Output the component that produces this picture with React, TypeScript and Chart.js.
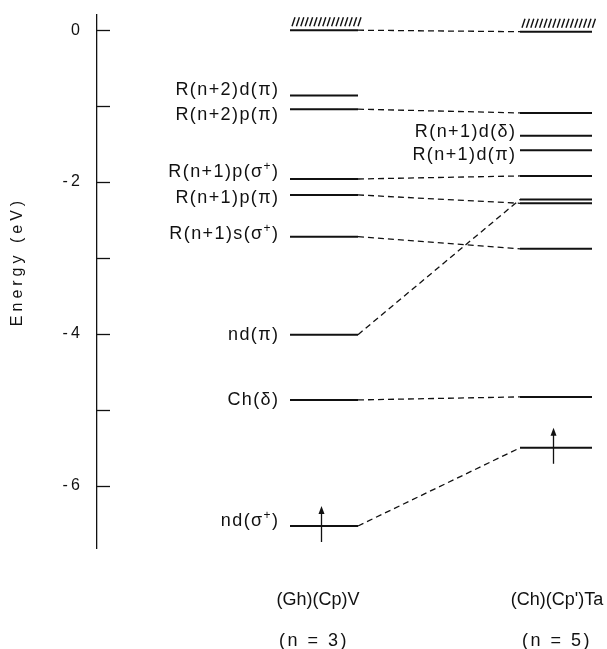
import React, { useEffect, useRef } from 'react';
import { Chart, registerables } from 'chart.js';

Chart.register(...registerables);

// ---- data ----
const yMin = -6.82;
const yMax = 0.2;
const evenTickValues = [0, -2, -4, -6];

const compounds = ['(Gh)(Cp)V', "(Ch)(Cp')Ta"];
const nValues = ['(n = 3)', '(n = 5)'];

// (Gh)(Cp)V levels (eV)
const levelsV = [0, -0.86, -1.04, -1.96, -2.17, -2.72, -4.01, -4.87, -6.53];
const labelsV = ['', 'R(n+2)d(π)', 'R(n+2)p(π)', 'R(n+1)p(σ+)', 'R(n+1)p(π)', 'R(n+1)s(σ+)', 'nd(π)', 'Ch(δ)', 'nd(σ+)'];
const labelAtV = [0, -0.79, -1.12, -1.87, -2.21, -2.68, -4.01, -4.87, -6.47];

// (Ch)(Cp')Ta levels (eV)
const levelsTa = [-0.02, -1.09, -1.39, -1.58, -1.92, -2.23, -2.28, -2.88, -4.83, -5.5];
const labelsTa = ['', '', 'R(n+1)d(δ)', 'R(n+1)d(π)', '', '', '', '', '', ''];
const labelAtTa = [0, 0, -1.34, -1.64, 0, 0, 0, 0, 0, 0];

// correlation lines: [index in V, index in Ta]
const linksFrom = [0, 2, 3, 4, 5, 6, 7, 8];
const linksTo = [0, 1, 4, 6, 7, 5, 8, 9];

// continuum (hatched) and occupied (arrow) levels
const hatchV = [0];
const hatchTa = [0];
const arrowV = [8];
const arrowTa = [9];

// ---- layout (x scale in px-like units across plot area) ----
const colV = [193, 261];
const colTa = [423, 495];
const compoundShift = [-6, 1];
const nShift = [-11, 0];
const INK = '#111';
const FONT = '"Liberation Sans", Arial, sans-serif';

function drawRich(ctx: CanvasRenderingContext2D, text: string, xRight: number, y: number, size: number, spacing: number) {
  const segs: { t: string; sup: boolean }[] = [];
  let cur = '';
  for (let i = 0; i < text.length; i++) {
    const c = text[i];
    if (c === '+' && text[i - 1] === 'σ') {
      if (cur) segs.push({ t: cur, sup: false });
      cur = '';
      segs.push({ t: '+', sup: true });
    } else cur += c;
  }
  if (cur) segs.push({ t: cur, sup: false });
  const supSize = Math.round(size * 0.65);
  const widths = segs.map((s) => {
    ctx.font = `${s.sup ? supSize : size}px ${FONT}`;
    (ctx as any).letterSpacing = `${spacing}px`;
    return ctx.measureText(s.t).width;
  });
  const total = widths.reduce((a, b) => a + b, 0) - spacing;
  let x = xRight - total;
  ctx.textAlign = 'left';
  ctx.textBaseline = 'middle';
  segs.forEach((s, i) => {
    ctx.font = `${s.sup ? supSize : size}px ${FONT}`;
    (ctx as any).letterSpacing = `${spacing}px`;
    ctx.fillText(s.t, x, s.sup ? y - size * 0.3 : y);
    x += widths[i];
  });
  (ctx as any).letterSpacing = '0px';
}

const diagramPlugin = {
  id: 'diagram',
  afterDatasetsDraw(chart: any) {
    const ctx: CanvasRenderingContext2D = chart.ctx;
    const xs = chart.scales.x;
    const ys = chart.scales.y;
    const area = chart.chartArea;
    ctx.save();
    ctx.fillStyle = INK;
    ctx.strokeStyle = INK;

    // tick marks (inside)
    ctx.lineWidth = 1.3;
    ys.ticks.forEach((t: any) => {
      const py = Math.round(ys.getPixelForValue(t.value)) + 0.5;
      ctx.beginPath();
      ctx.moveTo(area.left, py);
      ctx.lineTo(area.left + 13, py);
      ctx.stroke();
    });

    // y title
    ctx.save();
    ctx.translate(18, (area.top + area.bottom) / 2 - 20);
    ctx.rotate(-Math.PI / 2);
    ctx.font = `16px ${FONT}`;
    (ctx as any).letterSpacing = '4px';
    ctx.textAlign = 'center';
    ctx.textBaseline = 'middle';
    ctx.fillText('Energy (eV)', 0, 0);
    ctx.restore();

    // level labels
    const xV0 = xs.getPixelForValue(colV[0]);
    const xTa0 = xs.getPixelForValue(colTa[0]);
    labelsV.forEach((s, i) => {
      if (s) drawRich(ctx, s, xV0 - 12, ys.getPixelForValue(labelAtV[i]), 18, 1.4);
    });
    labelsTa.forEach((s, i) => {
      if (s) drawRich(ctx, s, xTa0 - 5, ys.getPixelForValue(labelAtTa[i]), 18, 1.4);
    });

    // hatching
    const hatch = (col: number[], e: number) => {
      const a = xs.getPixelForValue(col[0]) + 2;
      const b = xs.getPixelForValue(col[1]) + 2;
      const py = ys.getPixelForValue(e);
      ctx.lineWidth = 1.4;
      for (let x = a; x <= b; x += 4.4) {
        ctx.beginPath();
        ctx.moveTo(x, py - 4);
        ctx.lineTo(x + 3, py - 13);
        ctx.stroke();
      }
    };
    hatchV.forEach((i) => hatch(colV, levelsV[i]));
    hatchTa.forEach((i) => hatch(colTa, levelsTa[i]));

    // arrows
    const arrow = (col: number[], e: number) => {
      const cx = Math.round((xs.getPixelForValue(col[0]) + xs.getPixelForValue(col[1])) / 2 - 3) + 0.5;
      const py = ys.getPixelForValue(e);
      ctx.lineWidth = 1.3;
      ctx.beginPath();
      ctx.moveTo(cx, py + 16);
      ctx.lineTo(cx, py - 14);
      ctx.stroke();
      ctx.beginPath();
      ctx.moveTo(cx, py - 20);
      ctx.lineTo(cx - 3, py - 12);
      ctx.lineTo(cx + 3, py - 12);
      ctx.closePath();
      ctx.fill();
    };
    arrowV.forEach((i) => arrow(colV, levelsV[i]));
    arrowTa.forEach((i) => arrow(colTa, levelsTa[i]));

    // compound labels
    const cols = [colV, colTa];
    cols.forEach((col, i) => {
      const cx = (xs.getPixelForValue(col[0]) + xs.getPixelForValue(col[1])) / 2;
      ctx.textAlign = 'center';
      ctx.textBaseline = 'middle';
      ctx.font = `18px ${FONT}`;
      (ctx as any).letterSpacing = '0px';
      ctx.fillText(compounds[i], cx + compoundShift[i], area.bottom + 52);
      (ctx as any).letterSpacing = '2.5px';
      ctx.fillText(nValues[i], cx + nShift[i] + 1, area.bottom + 93);
      (ctx as any).letterSpacing = '0px';
    });

    ctx.restore();
  },
};

export default function App() {
  const ref = useRef<HTMLCanvasElement>(null);
  useEffect(() => {
    if (!ref.current) return;
    const datasets: any[] = [];
    levelsV.forEach((e) =>
      datasets.push({ data: [{ x: colV[0], y: e }, { x: colV[1], y: e }], borderColor: INK, borderWidth: 2, pointRadius: 0 })
    );
    levelsTa.forEach((e) =>
      datasets.push({ data: [{ x: colTa[0], y: e }, { x: colTa[1], y: e }], borderColor: INK, borderWidth: 2, pointRadius: 0 })
    );
    linksFrom.forEach((a, k) => {
      const b = linksTo[k];
      datasets.push({
        data: [{ x: colV[1], y: levelsV[a] }, { x: colTa[0], y: levelsTa[b] }],
        borderColor: INK,
        borderWidth: 1.3,
        borderDash: [6, 4],
        pointRadius: 0,
      });
    });
    const chart = new Chart(ref.current, {
      type: 'line',
      data: { datasets },
      options: {
        animation: false,
        responsive: false,
        events: [],
        layout: { padding: { top: 15, bottom: 101, right: 7, left: 0 } },
        plugins: { legend: { display: false }, tooltip: { enabled: false } },
        scales: {
          x: { type: 'linear', min: 0, max: 503, display: false },
          y: {
            type: 'linear',
            min: yMin,
            max: yMax,
            afterFit: (s: any) => {
              s.width = 97;
              s.paddingTop = 0;
              s.paddingBottom = 0;
            },
            border: { display: true, color: INK, width: 1.3 },
            grid: { display: false, drawTicks: false },
            ticks: {
              stepSize: 1,
              includeBounds: false,
              padding: 17,
              color: INK,
              font: { family: FONT, size: 16 },
              callback: (v: any) => {
                const n = Number(v);
                if (!evenTickValues.includes(n)) return '';
                return n === 0 ? '0' : '-\u2009' + Math.abs(n);
              },
            },
          },
        },
      },
      plugins: [diagramPlugin],
    });
    return () => chart.destroy();
  }, []);
  return (
    <div style={{ position: 'fixed', left: 0, top: 0, width: 607, height: 649, background: '#fff' }}>
      <canvas ref={ref} width={607} height={649} style={{ width: 607, height: 649, display: 'block' }} />
    </div>
  );
}
